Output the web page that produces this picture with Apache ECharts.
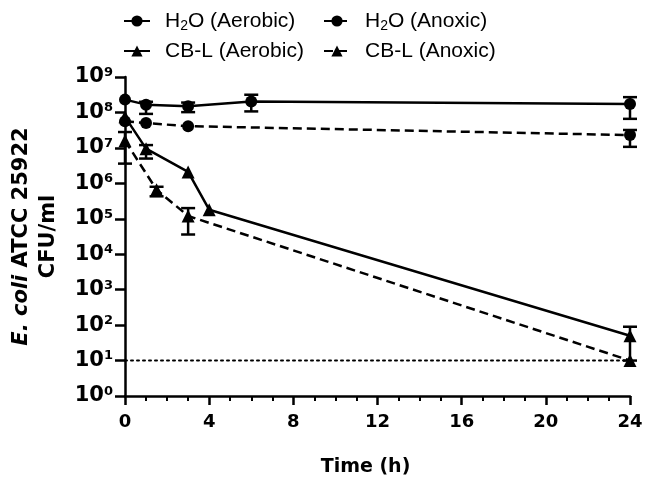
<!DOCTYPE html>
<html><head><meta charset="utf-8">
<script src="https://cdn.jsdelivr.net/npm/echarts@6/dist/echarts.min.js"></script>
<style>html,body{margin:0;padding:0;background:#fff}#c{width:648px;height:490px}</style>
</head><body><div id="c"></div>
<script>
// ---- data (CFU/ml) ----
const seriesNames = ['H2O (Aerobic)', 'H2O (Anoxic)', 'CB-L (Aerobic)', 'CB-L (Anoxic)'];

const h2oAerTime = [0, 1, 3, 6, 24];
const h2oAerMean = [2.3e8, 1.66e8, 1.5e8, 2.04e8, 1.74e8];
const h2oAerLow  = [null, 9.1e7, 1.02e8, 1.07e8, 6.6e7];
const h2oAerHigh = [null, 2.0e8, 1.9e8, 3.16e8, 2.7e8];

const h2oAnoxTime = [0, 1, 3, 24];
const h2oAnoxMean = [5.6e7, 5.0e7, 4.1e7, 2.3e7];
const h2oAnoxLow  = [null, null, null, 1.07e7];
const h2oAnoxHigh = [null, null, null, 3.2e7];

const cbAerTime = [0, 1, 3, 4, 24];
const cbAerMean = [7.5e7, 9.5e6, 2.1e6, 1.8e5, 50];
const cbAerLow  = [null, 5.0e6, null, null, 10];
const cbAerHigh = [null, 1.2e7, null, null, 90];

const cbAnoxTime = [0, 1.5, 3, 24];
const cbAnoxMean = [1.6e7, 6.6e5, 1.2e5, 10];
const cbAnoxLow  = [3.6e6, 4.3e5, 3.6e4, null];
const cbAnoxHigh = [2.8e7, 8.0e5, 2.0e5, null];

const detectionLimit = 10;
const xTickValues = [0, 4, 8, 12, 16, 20, 24];
const yExponents = [0, 1, 2, 3, 4, 5, 6, 7, 8, 9];

// ---- build ----
const FONT = "'Liberation Sans', Arial, Helvetica, sans-serif";
const BFONT = "'DejaVu Sans', 'Liberation Sans', Arial, sans-serif";
const zip = (t, v) => t.map((x, i) => [x, v[i]]);
const errData = (t, lo, hi) => t.map((x, i) => [x, lo[i], hi[i]]).filter(d => d[1] != null);

function renderErr(params, api) {
  const x = api.value(0), lo = api.value(1), hi = api.value(2);
  const p1 = api.coord([x, hi]), p2 = api.coord([x, lo]);
  const w = 7;
  const st = { stroke: '#000', lineWidth: 2.5 };
  return { type: 'group', children: [
    { type: 'line', shape: { x1: p1[0], y1: p1[1], x2: p2[0], y2: p2[1] }, style: st },
    { type: 'line', shape: { x1: p1[0] - w, y1: p1[1], x2: p1[0] + w, y2: p1[1] }, style: st },
    { type: 'line', shape: { x1: p2[0] - w, y1: p2[1], x2: p2[0] + w, y2: p2[1] }, style: st }
  ]};
}

function lineSeries(name, data, symbol, dashed) {
  return {
    name, type: 'line', data, symbol,
    symbolSize: symbol === 'circle' ? 12 : 13,
    itemStyle: { color: '#000' },
    lineStyle: { color: '#000', width: 2.5, type: dashed ? [9, 5] : 'solid' },
    z: 3
  };
}
function errSeries(data) {
  return { type: 'custom', renderItem: renderErr, data, encode: { x: 0, y: [1, 2] }, z: 2, silent: true };
}

const legendText = {
  fontFamily: FONT, fontSize: 21, color: '#000', padding: [0, 0, 0, 10], lineHeight: 24,
  rich: { sub: { fontFamily: FONT, fontSize: 14, color: '#000', verticalAlign: 'top', lineHeight: 14, padding: [10, 0, 0, 0] } }
};
const legendFmt = n => n.replace('H2O', 'H{sub|2}O');

const chart = echarts.init(document.getElementById('c'), null, { renderer: 'canvas' });
chart.setOption({
  animation: false,
  backgroundColor: '#fff',
  grid: { left: 121, right: 18, top: 77, bottom: 94, containLabel: false },
  legend: [
    { left: 118, top: 4, orient: 'vertical', itemGap: 6, itemWidth: 26, itemHeight: 14,
      data: [seriesNames[0], seriesNames[2]], textStyle: legendText, formatter: legendFmt },
    { left: 318, top: 4, orient: 'vertical', itemGap: 6, itemWidth: 26, itemHeight: 14,
      data: [seriesNames[1], seriesNames[3]], textStyle: legendText, formatter: legendFmt }
  ],
  xAxis: {
    type: 'value', min: xTickValues[0], max: xTickValues[xTickValues.length - 1],
    interval: xTickValues[1] - xTickValues[0],
    axisLine: { show: true, lineStyle: { color: '#000', width: 2.5 } },
    axisTick: { show: true, length: 9, lineStyle: { color: '#000', width: 2.5 } },
    minorTick: { show: true, splitNumber: 4, length: 5, lineStyle: { color: '#000', width: 2 } },
    splitLine: { show: false },
    axisLabel: { color: '#000', fontFamily: BFONT, fontWeight: 'bold', fontSize: 18, margin: 17 },
    name: 'Time (h)', nameLocation: 'middle', nameGap: 62,
    nameTextStyle: { color: '#000', fontFamily: BFONT, fontWeight: 'bold', fontSize: 19, padding: [0, 24, 0, 0] }
  },
  yAxis: {
    type: 'log', logBase: 10, min: Math.pow(10, yExponents[0]), max: Math.pow(10, yExponents[yExponents.length - 1]),
    splitNumber: 9,
    axisLine: { show: true, lineStyle: { color: '#000', width: 2.5 } },
    axisTick: { show: true, length: 10, lineStyle: { color: '#000', width: 2.5 } },
    splitLine: { show: false },
    axisLabel: {
      margin: 12,
      formatter: v => '{b|10}{s|' + Math.round(Math.log10(v)) + '}',
      rich: {
        b: { fontFamily: BFONT, fontWeight: 'bold', fontSize: 21, color: '#000', lineHeight: 22 },
        s: { fontFamily: BFONT, fontWeight: 'bold', fontSize: 13, color: '#000', verticalAlign: 'top', lineHeight: 13 }
      }
    },
    name: '{i|E. coli} ATCC 25922\nCFU/ml', nameLocation: 'middle', nameRotate: 90, nameGap: 63,
    nameTextStyle: {
      color: '#000', fontFamily: BFONT, fontWeight: 'bold', fontSize: 21, lineHeight: 27, align: 'center',
      rich: { i: { fontFamily: BFONT, fontWeight: 'bold', fontStyle: 'italic', fontSize: 21, color: '#000', lineHeight: 27 } }
    }
  },
  series: [
    errSeries(errData(h2oAerTime, h2oAerLow, h2oAerHigh)),
    errSeries(errData(h2oAnoxTime, h2oAnoxLow, h2oAnoxHigh)),
    errSeries(errData(cbAerTime, cbAerLow, cbAerHigh)),
    errSeries(errData(cbAnoxTime, cbAnoxLow, cbAnoxHigh)),
    {
      type: 'line', data: [[xTickValues[0], detectionLimit], [xTickValues[xTickValues.length - 1], detectionLimit]],
      symbol: 'none', silent: true, z: 1,
      lineStyle: { color: '#000', width: 2, type: [2, 4], cap: 'round' }
    },
    lineSeries(seriesNames[0], zip(h2oAerTime, h2oAerMean), 'circle', false),
    lineSeries(seriesNames[1], zip(h2oAnoxTime, h2oAnoxMean), 'circle', true),
    lineSeries(seriesNames[2], zip(cbAerTime, cbAerMean), 'triangle', false),
    lineSeries(seriesNames[3], zip(cbAnoxTime, cbAnoxMean), 'triangle', true)
  ]
});
</script></body></html>
